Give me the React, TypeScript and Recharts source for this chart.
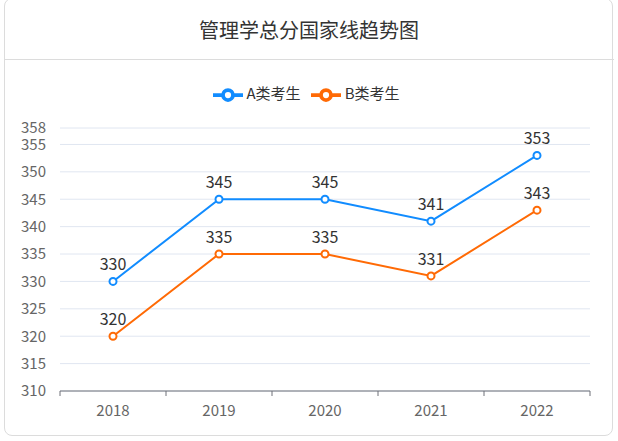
import {
  LineChart,
  Line,
  XAxis,
  YAxis,
  CartesianGrid,
  Legend,
  LabelList,
} from "recharts";

const years = ["2018", "2019", "2020", "2021", "2022"];
const typeA = [330, 345, 345, 341, 353];
const typeB = [320, 335, 335, 331, 343];
const yTicks = [310, 315, 320, 325, 330, 335, 340, 345, 350, 355, 358];

const data = years.map((year, i) => ({ year, a: typeA[i], b: typeB[i] }));

const FONT = '"Noto Sans CJK SC", "Noto Sans", sans-serif';
const BLUE = "#118cff";
const ORANGE = "#ff6a05";

// plot area: left 60, right 590 -> 5 bands
const PLOT_LEFT = 60;
const PLOT_RIGHT = 590;
const BAND = (PLOT_RIGHT - PLOT_LEFT) / years.length;

function YearTick(props: any) {
  const { x, y, payload, index } = props;
  const half = BAND / 2;
  return (
    <g>
      <line x1={x - half} y1={y - 8} x2={x - half} y2={y - 3} stroke="#6e7079" />
      {index === years.length - 1 && (
        <line x1={x + half} y1={y - 8} x2={x + half} y2={y - 3} stroke="#6e7079" />
      )}
      <text x={x} y={y + 17} textAnchor="middle" fill="#666" fontSize={15} fontFamily={FONT}>
        {payload.value}
      </text>
    </g>
  );
}

export default function App() {
  return (
    <div style={{ position: "fixed", left: 0, top: 0, width: 618, height: 441, background: "#fff", fontFamily: FONT }}>
      {/* card */}
      <div
        style={{
          position: "absolute",
          left: 4,
          top: -2,
          width: 609,
          height: 438,
          border: "1px solid #dcdcdc",
          borderRadius: 8,
          boxSizing: "border-box",
        }}
      />
      <div style={{ position: "absolute", left: 4, top: 59, width: 610, height: 1, background: "#dcdcdc" }} />
      <div
        style={{
          position: "absolute",
          left: 0,
          width: 618,
          top: 15,
          textAlign: "center",
          fontSize: 20,
          color: "#333",
        }}
      >
        管理学总分国家线趋势图
      </div>

      <div style={{ position: "absolute", left: 0, top: 0 }}>
        <LineChart width={618} height={441} data={data} margin={{ top: 98, right: 618 - PLOT_RIGHT, bottom: 20, left: 0 }}>
          <CartesianGrid vertical={false} stroke="#e0e6f1" />
          <XAxis
            dataKey="year"
            scale="band"
            axisLine={{ stroke: "#6e7079" }}
            tickLine={false}
            tick={<YearTick />}
            height={30}
            interval={0}
          />
          <YAxis
            width={PLOT_LEFT}
            domain={[310, 358]}
            ticks={yTicks}
            interval={0}
            axisLine={false}
            tickLine={false}
            tick={{ fill: "#666", fontSize: 15, fontFamily: FONT }}
            tickMargin={8}
          />
          <Legend
            verticalAlign="top"
            align="center"
            iconSize={30}
            wrapperStyle={{ top: 80, left: 2, width: 618 }}
            formatter={(value: string) => (
              <span style={{ color: "#333", fontSize: 15, fontFamily: FONT }}>{value}</span>
            )}
          />
          <Line
            name="A类考生"
            dataKey="a"
            stroke={BLUE}
            strokeWidth={2}
            dot={{ r: 3.5, fill: "#fff", stroke: BLUE, strokeWidth: 2 }}
            legendType="line"
            isAnimationActive={false}
          >
            <LabelList dataKey="a" position="top" offset={11} fill="#333" fontSize={16} fontFamily={FONT} />
          </Line>
          <Line
            name="B类考生"
            dataKey="b"
            stroke={ORANGE}
            strokeWidth={2}
            dot={{ r: 3.5, fill: "#fff", stroke: ORANGE, strokeWidth: 2 }}
            legendType="line"
            isAnimationActive={false}
          >
            <LabelList dataKey="b" position="top" offset={11} fill="#333" fontSize={16} fontFamily={FONT} />
          </Line>
        </LineChart>
      </div>
    </div>
  );
}
